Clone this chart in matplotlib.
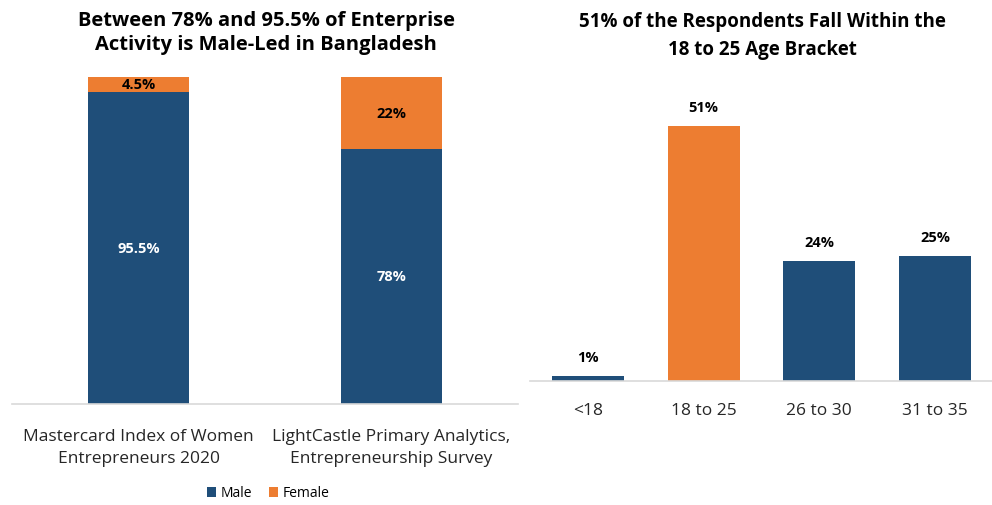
import matplotlib.pyplot as plt

plt.rcParams['font.family'] = ['Open Sans', 'DejaVu Sans']

# left chart: gender split of enterprise activity
sources = ['Mastercard Index of Women\nEntrepreneurs 2020',
           'LightCastle Primary Analytics,\nEntrepreneurship Survey']
male = [95.5, 78]
female = [4.5, 22]
male_labels = ['95.5%', '78%']
female_labels = ['4.5%', '22%']

# right chart: age brackets
ages = ['<18', '18 to 25', '26 to 30', '31 to 35']
age_share = [1, 51, 24, 25]
age_labels = ['1%', '51%', '24%', '25%']

BLUE = '#1F4E79'
ORANGE = '#ED7D31'
GRID = '#D9D9D9'

fig = plt.figure(figsize=(9.92, 5.06), dpi=100)

# ---- left panel
ax1 = fig.add_axes([12/992, 101/506, 506/992, 327/506])
x = range(len(sources))
b1 = ax1.bar(x, male, width=0.40, color=BLUE, label='Male')
b2 = ax1.bar(x, female, width=0.40, bottom=male, color=ORANGE, label='Female')
for i in x:
    ax1.text(i, male[i] / 2, male_labels[i], ha='center', va='center',
             color='white', fontsize=10.5, fontweight='bold')
    ax1.text(i, male[i] + female[i] / 2, female_labels[i], ha='center', va='center',
             color='black', fontsize=10.5, fontweight='bold')
ax1.set_xlim(-0.5, 1.5)
ax1.set_ylim(0, 100)
ax1.set_xticks(list(x))
ax1.set_xticklabels(sources, fontsize=12.5, color='#262626', linespacing=1.55)
ax1.tick_params(axis='x', length=0, pad=17)
ax1.set_yticks([])
for s in ['top', 'right', 'left']:
    ax1.spines[s].set_visible(False)
ax1.spines['bottom'].set_color(GRID)
ax1.spines['bottom'].set_linewidth(1.2)
fig.text(266/992, 1 - 33/506, 'Between 78% and 95.5% of Enterprise\nActivity is Male-Led in Bangladesh',
         ha='center', va='center', fontsize=14.5, fontweight='bold', linespacing=1.25)
fig.legend(handles=[b1, b2], loc='center', bbox_to_anchor=(268/992, 1 - 494/506),
           ncol=2, frameon=False, fontsize=10, handlelength=0.7, handleheight=0.7,
           handletextpad=0.3, columnspacing=1.2)

# ---- right panel
ax2 = fig.add_axes([530/992, 124/506, 463/992, 300/506])
colors = [ORANGE if v == max(age_share) else BLUE for v in age_share]
ax2.bar(range(len(ages)), age_share, width=0.62, color=colors)
for i, v in enumerate(age_share):
    ax2.text(i, v + 2.4, age_labels[i], ha='center', va='bottom',
             fontsize=10.5, fontweight='bold')
ax2.set_xlim(-0.5, 3.5)
ax2.set_ylim(0, 60)
ax2.set_xticks(range(len(ages)))
ax2.set_xticklabels(ages, fontsize=12.5, color='#262626')
ax2.tick_params(axis='x', length=0, pad=15)
ax2.set_yticks([])
for s in ['top', 'right', 'left']:
    ax2.spines[s].set_visible(False)
ax2.spines['bottom'].set_color(GRID)
ax2.spines['bottom'].set_linewidth(1.2)
fig.text(762/992, 1 - 36/506, '51% of the Respondents Fall Within the\n18 to 25 Age Bracket',
         ha='center', va='center', fontsize=13.5, fontweight='bold', linespacing=1.5)

fig.savefig('out.png', dpi=100)
